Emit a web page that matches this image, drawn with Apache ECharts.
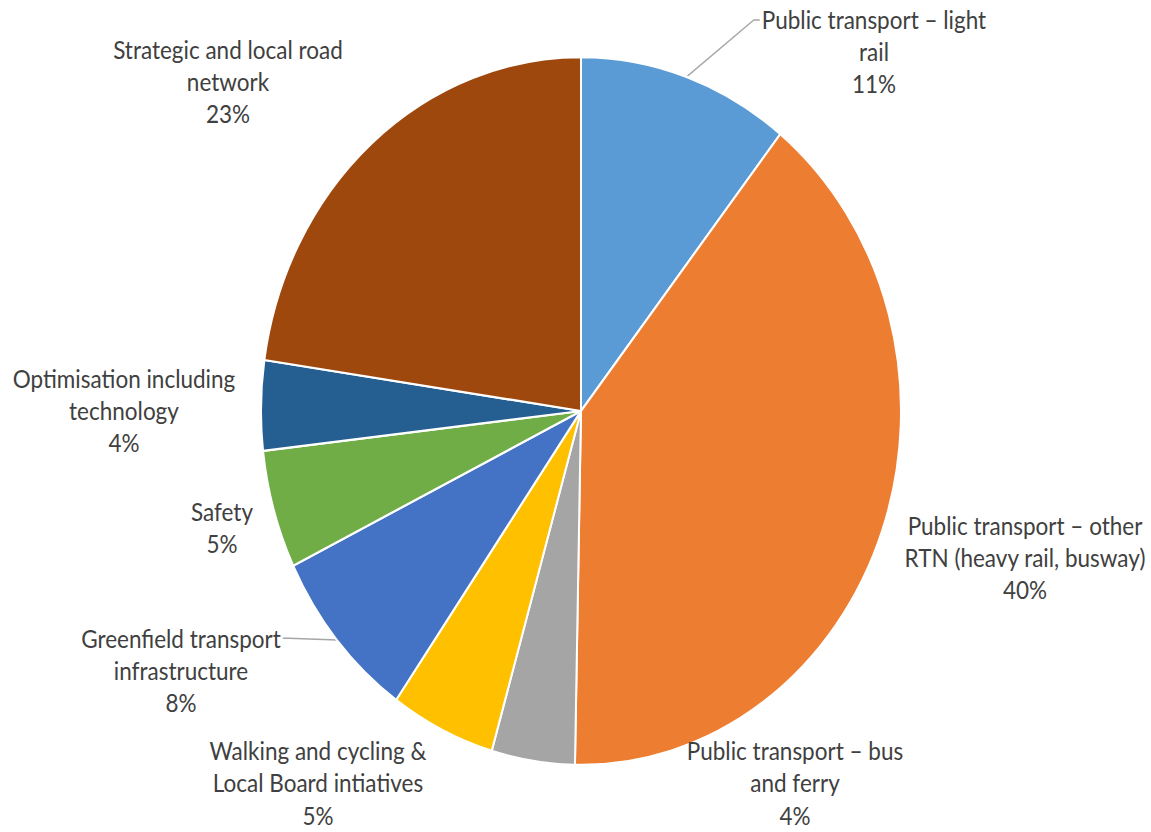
<!DOCTYPE html>
<html>
<head>
<meta charset="utf-8">
<script src="https://cdn.jsdelivr.net/npm/echarts@6/dist/echarts.min.js"></script>
<style>
  html, body { margin: 0; padding: 0; background: #ffffff; overflow: hidden; }
  #wrap { width: 1151px; height: 832px; position: relative; }
  /* the pie is drawn slightly taller than wide, so the chart is stretched vertically */
  #chart { width: 1151px; height: 752px; transform: scaleY(1.106); transform-origin: 0 0; }
</style>
</head>
<body>
<div id="wrap"><div id="chart"></div></div>
<script>
// Share of investment by programme (percent)
const categories = [
  'Public transport – light\nrail',
  'Public transport – other\nRTN (heavy rail, busway)',
  'Public transport – bus\nand ferry',
  'Walking and cycling &\nLocal Board intiatives',
  'Greenfield transport\ninfrastructure',
  'Safety',
  'Optimisation including\ntechnology',
  'Strategic and local road\nnetwork'
];
const shares = [10.7, 39.6, 4.2, 5.3, 8.0, 5.4, 4.1, 22.7];
const colors = ['#5B9BD5', '#ED7D31', '#A5A5A5', '#FFC000', '#4472C4', '#70AD47', '#255E91', '#9E480E'];
// which labels get a leader line, and on which side of the label it attaches
const leaderSide = ['left', null, null, null, 'right', null, null, null];

// label centres (chart coordinates, before vertical stretch)
const labelSpots = [
  [874, 47], [1025, 504], [795, 708], [318, 708],
  [181, 606], [222, 477], [124, 371], [228, 74]
];

const LINE_H = 29;

const chart = echarts.init(document.getElementById('chart'), null, { renderer: 'svg' });

chart.setOption({
  animation: false,
  color: colors,
  series: [{
    type: 'pie',
    center: [581, 371.6],
    radius: 320,
    startAngle: 90,
    clockwise: true,
    avoidLabelOverlap: false,
    itemStyle: { borderColor: '#ffffff', borderWidth: 2 },
    label: {
      show: true,
      position: 'outside',
      color: '#404040',
      fontFamily: 'Lato',
      fontSize: 22.5,
      lineHeight: LINE_H,
      align: 'center',
      formatter: p => p.name + '\n' + Math.round(p.value) + '%'
    },
    labelLine: { show: false, lineStyle: { color: '#A6A6A6', width: 1.3 }, length: 20, length2: 20 },
    labelLayout: params => {
      const i = params.dataIndex;
      const s = labelSpots[i];
      const out = { x: s[0], y: s[1], align: 'center', verticalAlign: 'middle' };
      const side = leaderSide[i];
      if (side && params.labelLinePoints) {
        const anchor = params.labelLinePoints[0];
        const w = params.labelRect.width;
        const h = params.labelRect.height;
        const firstY = s[1] - h / 2 + LINE_H / 2;
        if (side === 'left') {
          const lx = s[0] - w / 2;
          out.labelLinePoints = [anchor, [lx - 8, firstY], [lx - 2, firstY]];
        } else {
          const rx = s[0] + w / 2;
          out.labelLinePoints = [anchor, [rx + 8, firstY], [rx + 2, firstY]];
        }
      }
      return out;
    },
    emphasis: { disabled: true },
    data: categories.map((name, i) => ({
      name: name,
      value: shares[i],
      labelLine: { show: leaderSide[i] !== null }
    }))
  }]
});
</script>
</body>
</html>
